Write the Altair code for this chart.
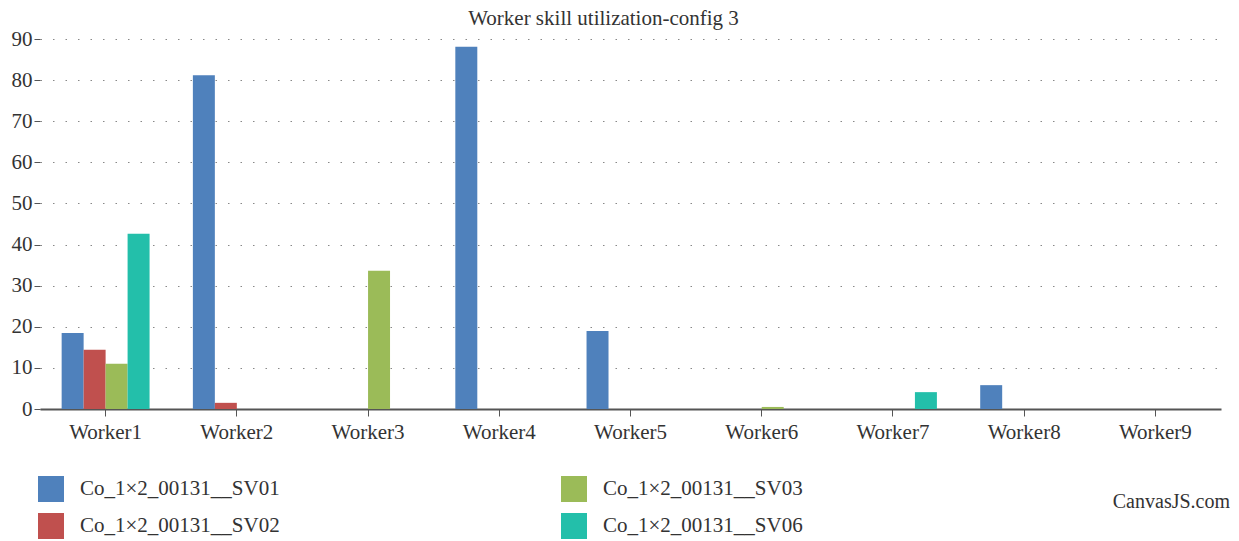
import altair as alt
import pandas as pd

workers = ["Worker1", "Worker2", "Worker3", "Worker4", "Worker5", "Worker6", "Worker7", "Worker8", "Worker9"]
series = ["Co_1×2_00131__SV01", "Co_1×2_00131__SV02", "Co_1×2_00131__SV03", "Co_1×2_00131__SV06"]
sv01 = [18.5, 81.2, 0, 88.1, 19.0, 0, 0, 5.8, 0]
sv02 = [14.4, 1.5, 0, 0, 0, 0, 0, 0, 0]
sv03 = [11.0, 0, 33.6, 0, 0, 0.5, 0, 0, 0]
sv06 = [42.6, 0, 0, 0, 0, 0, 4.1, 0, 0]
colors = ["#4F81BC", "#C0504E", "#9BBB58", "#23BFAA"]

rows = []
for s, vals in zip(series, [sv01, sv02, sv03, sv06]):
    for w, v in zip(workers, vals):
        rows.append({"worker": w, "series": s, "value": v})
df = pd.DataFrame(rows)

FONT = "Liberation Serif"
FS = 21

bars = alt.Chart(df).mark_bar().encode(
    x=alt.X("worker:N", sort=workers,
            scale=alt.Scale(paddingInner=0.33, paddingOuter=0.165),
            axis=alt.Axis(title=None, labelAngle=0, labelFontSize=FS, labelFont=FONT,
                          labelColor="#333333", domainColor="#555555", domainWidth=2,
                          tickColor="#555555", tickSize=7, labelPadding=5, grid=False)),
    xOffset=alt.XOffset("series:N", sort=series, scale=alt.Scale(paddingInner=0, paddingOuter=0)),
    y=alt.Y("value:Q", scale=alt.Scale(domain=[0, 90], nice=False),
            axis=alt.Axis(title=None, values=list(range(0, 91, 10)), labelFontSize=FS,
                          labelFont=FONT, labelColor="#333333", domain=False,
                          tickColor="#555555", tickSize=6, labelPadding=2,
                          grid=True, gridColor="#888888", gridDash=[1.5, 11], gridWidth=1)),
    color=alt.Color("series:N",
                    scale=alt.Scale(domain=series, range=colors),
                    legend=alt.Legend(title=None, orient="none", legendX=-2, legendY=437,
                                      columns=2, columnPadding=281, rowPadding=11,
                                      symbolType="square", symbolSize=676,
                                      symbolStrokeWidth=0, labelFontSize=FS, labelFont=FONT,
                                      labelColor="#333333", labelOffset=16, labelLimit=400,
                                      padding=0)),
)

credit = alt.Chart(pd.DataFrame({"t": ["CanvasJS.com"]})).mark_text(
    align="right", baseline="middle", fontSize=20, font=FONT, color="#333333"
).encode(text="t:N", x=alt.value(1190), y=alt.value(463))

chart = alt.layer(bars, credit).properties(
    width=1181, height=370,
    title=alt.Title("Worker skill utilization-config 3", fontSize=FS, font=FONT,
                    fontWeight="normal", color="#333333", dx=-27, dy=2, offset=1),
    autosize=alt.AutoSizeParams(type="none"),
    padding={"left": 32, "top": 31, "right": 9, "bottom": 132},
).configure_view(stroke=None)

chart.save("out.html", embed_options={"renderer": "svg", "actions": False})
